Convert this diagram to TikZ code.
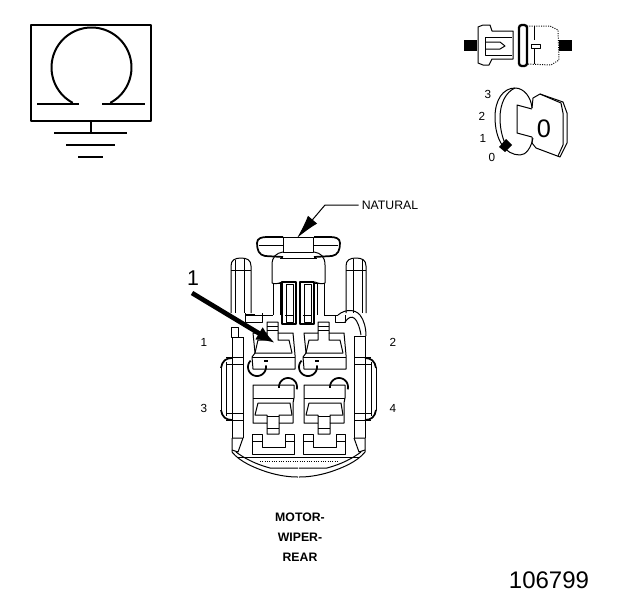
\documentclass[tikz,border=0pt]{standalone}
\usepackage{fontspec}
\setmainfont{Liberation Sans}
\usetikzlibrary{positioning,arrows.meta}
\tikzset{
  thinline/.style={line width=0.75pt,line join=round},
  heavyline/.style={line width=1.3pt,line join=round},
  symbolline/.style={line width=1.5pt,line join=round},
  smalltext/.style={font=\fontsize{8.8pt}{10pt}\selectfont,inner sep=0pt},
  boldtext/.style={font=\fontsize{9.2pt}{10pt}\selectfont\bfseries,inner sep=0pt},
}
\begin{document}
\begin{tikzpicture}[x=0.75pt,y=-0.75pt]
  \useasboundingbox (0,0) rectangle (624,600);
  % symbol in the frame
  \draw[symbolline] (31,25) rectangle (151,121);
  \draw[symbolline,domain=-62:242,samples=70,variable=\a] plot ({91.5+40*cos(\a)},{67.5-40*sin(\a)});
  \draw[symbolline] (37,104) -- (79,104) (102,104) -- (145,104);
  \draw[symbolline] (91,121) -- (91,133);
  \draw[symbolline] (54,133) -- (127,133) (66,145) -- (115,145) (78,157) -- (103,157);
  % plug
  \fill (464,40) rectangle (477,51);
  \fill (559,40) rectangle (572,51);
  \draw[thinline] (483,25) -- (478,27) -- (478,63) -- (483,65) -- (489,65) -- (492,59) -- (513,59)
    -- (513,31) -- (492,31) -- (490,25) -- cycle;
  \draw[thinline] (485,37) -- (512,37) (485,37) -- (485,55) -- (512,55);
  \draw[thinline] (485,42) -- (500,42) -- (505,46) -- (500,49) -- (485,49);
  \draw[line width=1.7pt,rounded corners=2pt] (519,25) rectangle (527,66);
  \draw[thinline,densely dotted] (527,26) -- (550,26) -- (558,30) -- (559,60) -- (551,65) -- (527,64);
  \draw[thinline] (534,26) -- (534,40) (534,49) -- (534,64);
  \draw[thinline] (531,44) rectangle (540,48);
  % key
  \draw[thinline] (532,108) .. controls (531,97) and (524,88) .. (515,88)
    .. controls (503,88) and (495,100) .. (495,117)
    .. controls (495,140) and (505,155) .. (520,155)
    .. controls (526,155) and (531,148) .. (533,138);
  \draw[thinline] (515,88) .. controls (506,92) and (500,103) .. (500,118) .. controls (500,128) and (502,137) .. (506,146);
  \draw[thinline] (532,109) -- (517,105) -- (517,133) -- (532,137);
  \draw[thinline] (532,108) -- (533,98) -- (540,94) -- (563,102) -- (567,113) -- (567,143) -- (560,157) -- (536,148) -- (532,143) -- (532,137);
  \draw[thinline] (540,94) -- (561,103) -- (563,113) -- (563,145) -- (558,156);
  \fill (506,139) -- (512,145) -- (505,152) -- (499,147) -- cycle;
  \node[font=\fontsize{19pt}{21pt}\selectfont,inner sep=0pt] (keynum) at (544,129) {0};
  \node[smalltext] (pos3) at (488,94) {3};
  \node[smalltext] (pos2) at (482,116) {2};
  \node[smalltext] (pos1) at (483,138) {1};
  \node[smalltext] (pos0) at (492,157) {0};
  % connector, parts that are the same on both sides
  \foreach \flip/\org in {1/0,-1/597} {
    \begin{scope}[shift={(\org,0)},xscale=\flip]
      \draw[heavyline] (257,243) .. controls (257,238) and (262,237) .. (267,237) -- (283,237) (283,257) -- (265,256)
        .. controls (259,255) and (257,250) .. (257,243);
      \draw[thinline] (259,245) -- (283,245);
      \draw[thinline] (231,313) -- (231,266) .. controls (231,260) and (235,258) .. (241,258)
        .. controls (247,258) and (251,260) .. (251,266) -- (251,313);
      \draw[thinline] (235,260) -- (235,313) (244,259) -- (244,313) (231,270) -- (251,270);
      \draw[thinline] (273,283) -- (273,315) (280,283) -- (280,315);
      \draw[thinline] (272,283) -- (272,265) .. controls (272,257) and (276,253) .. (283,252);
      \draw[thinline] (272,283) .. controls (274,284) and (278,284) .. (282,282);
      % body side
      \draw[thinline] (232,337) -- (232,438) (243,337) -- (243,438);
      \draw[thinline] (221,368) -- (221,410);
      \draw[heavyline] (232,358) .. controls (226,358) and (222,361) .. (221,368);
      \draw[heavyline] (221,410) .. controls (222,417) and (226,420) .. (232,420);
      \draw[thinline] (226,362) -- (226,416) (226,364) -- (243,364) (226,357) -- (243,357)
        (226,413) -- (243,413) (226,420) -- (243,420);
      % lower shell
      \draw[thinline] (232,438) -- (232,452) .. controls (240,462) and (255,468) .. (267,472)
        .. controls (280,476) and (290,477) .. (298,477);
      \draw[thinline] (232,438) -- (243,438) (232,450) -- (238,452) -- (243,438);
      \draw[thinline] (236,452) .. controls (244,458) and (255,464) .. (270,468) -- (298,468);
    \end{scope}
  }
  % cap on the left side only
  \draw[thinline] (231,327) rectangle (238,337);
  \draw[thinline] (232,337) -- (243,337);
  % connector, top and slots
  \draw[thinline] (283,237) rectangle (313,252);
  \draw[thinline] (283,252) -- (313,252) (280,258) -- (317,258);
  \draw[thinline] (277,283) -- (282,283) (314,283) -- (320,283);
  \foreach \xa in {282,300} {
    \draw[heavyline] (\xa,282) rectangle (\xa+14,324);
    \draw[thinline] (\xa+4,284) rectangle (\xa+11,322);
    \draw[thinline] (\xa+3,315) -- (\xa+11,315);
  }
  % left and right of the slots
  \draw[thinline] (245,315) -- (273,315) (245,313) -- (245,322) -- (262,322) -- (262,313);
  \draw[heavyline] (245,315) -- (255,315);
  \draw[thinline] (324,315) -- (338,315) (335,315) -- (335,322) -- (345,322) -- (345,315);
  \draw[thinline] (338,315) .. controls (345,309) and (355,309) .. (360,315) .. controls (364,320) and (366,328) .. (366,336);
  \draw[thinline] (345,322) .. controls (352,312) and (358,318) .. (361,335);
  \draw[thinline] (354,336) -- (366,336);
  % cavities
  \foreach \dx in {0,51} {
    \begin{scope}[shift={(\dx,0)}]
      \draw[thinline] (253,333) -- (267,333) -- (267,322) -- (278,322) -- (278,333) -- (293,333) -- (295,355) -- (295,369)
        -- (253,369) -- (252,357) -- (255,353) -- cycle;
      \draw[thinline] (267,326) -- (278,326) (267,330) -- (278,330);
      \draw[thinline] (255,353) -- (258,340) -- (267,340) -- (267,333) (278,333) -- (278,340) -- (289,340) -- (292,353) -- (255,353);
      \draw[thinline] (252,357) -- (295,357);
      \draw[heavyline,domain=-10:225,samples=40,variable=\a] plot ({257+9*cos(\a)},{367+9*sin(\a)});
      \draw[heavyline] (264,361) -- (268,361);
      % lower one
      \draw[thinline] (253,385) -- (294,385) -- (294,398) -- (293,403) -- (293,423) -- (279,423) -- (279,434) -- (267,434)
        -- (267,423) -- (253,423) -- (253,403) -- (253,398) -- cycle;
      \draw[thinline] (267,416) -- (279,416) (267,428) -- (279,428);
      \draw[thinline] (253,398) -- (294,398);
      \draw[thinline] (258,403) -- (290,403) -- (292,415) -- (279,415) -- (279,423);
      \draw[thinline] (258,403) -- (255,415) -- (267,415) -- (267,423);
      \draw[heavyline,domain=175:375,samples=40,variable=\a] plot ({288+9*cos(\a)},{387+9*sin(\a)});
      % bottom U
      \draw[thinline] (252,434) -- (262,434) -- (262,447) -- (285,447) -- (285,434) -- (294,434) -- (294,454) -- (252,454) -- cycle;
      \draw[thinline] (252,441) -- (262,441) (285,441) -- (294,441);
    \end{scope}
  }
  % skirt lines
  \draw[thinline] (237,457) -- (360,457);
  \draw[thinline,densely dotted] (260,461) -- (338,461);
  % pointers
  \coordinate (onetail) at (192,293);
  \coordinate (onetip) at (275,343);
  \draw[line width=3.5pt,-{Latex[length=14pt,width=11pt]}] (onetail) -- (onetip);
  \node[font=\fontsize{16pt}{18pt}\selectfont,inner sep=0pt] (onelabel) at (193,278) {1};
  \node[font=\fontsize{9.2pt}{11pt}\selectfont,inner sep=0pt] (natural) at (390,205) {NATURAL};
  \coordinate (naturalbend) at (325,205);
  \coordinate (naturaltip) at (297,238);
  \draw[thinline,-{Latex[length=18pt,width=9pt]}] (natural.west) ++(-3,0) -- (naturalbend) -- (naturaltip);
  % pin numbers
  \node[smalltext] (pin1) at (204,342) {1};
  \node[smalltext] (pin2) at (393,342) {2};
  \node[smalltext] (pin3) at (204,408) {3};
  \node[smalltext] (pin4) at (393,408) {4};
  \node[boldtext] (motor) at (300,517) {MOTOR-};
  \node[boldtext] (wiper) at (300,537) {WIPER-};
  \node[boldtext] (rear) at (300,557) {REAR};
  \node[font=\fontsize{18pt}{20pt}\selectfont,inner sep=0pt] (partno) at (549,580) {106799};
\end{tikzpicture}
\end{document}
